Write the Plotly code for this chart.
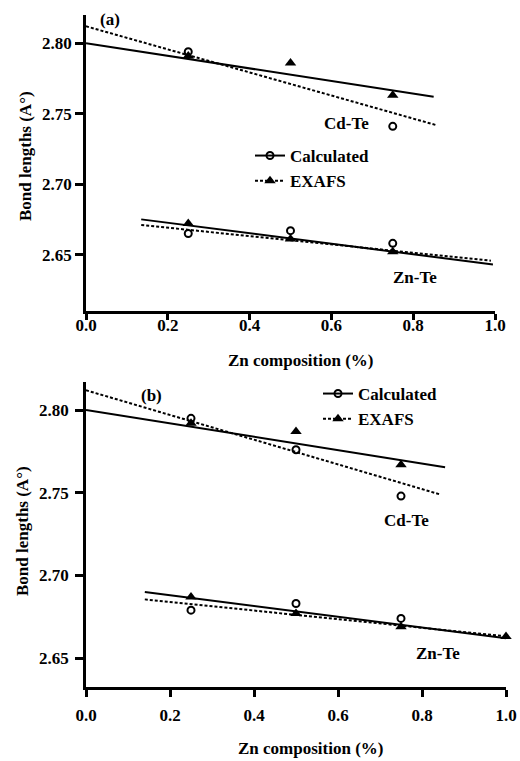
import plotly.graph_objects as go

# ---------------- data ----------------
comp = [0.25, 0.5, 0.75]

# panel (a)
a_cdte_calc_x = [0.25, 0.75]
a_cdte_calc_y = [2.794, 2.741]
a_cdte_exafs_x = [0.25, 0.5, 0.75]
a_cdte_exafs_y = [2.791, 2.786, 2.763]
a_znte_calc_y = [2.665, 2.667, 2.658]
a_znte_exafs_y = [2.672, 2.661, 2.652]
# fitted lines (end points)
a_cdte_solid_x = [0.0, 0.85]
a_cdte_solid_y = [2.800, 2.762]
a_cdte_dash_x = [0.0, 0.855]
a_cdte_dash_y = [2.812, 2.742]
a_znte_solid_x = [0.135, 0.995]
a_znte_solid_y = [2.675, 2.643]
a_znte_dash_x = [0.135, 0.99]
a_znte_dash_y = [2.671, 2.6457]

# panel (b)
b_cdte_calc_y = [2.795, 2.776, 2.748]
b_cdte_exafs_y = [2.792, 2.787, 2.767]
b_znte_calc_y = [2.679, 2.683, 2.674]
b_znte_exafs_x = [0.25, 0.5, 0.75, 1.0]
b_znte_exafs_y = [2.687, 2.677, 2.669, 2.663]
b_cdte_solid_x = [0.0, 0.855]
b_cdte_solid_y = [2.800, 2.7655]
b_cdte_dash_x = [0.0, 0.843]
b_cdte_dash_y = [2.812, 2.749]
b_znte_solid_x = [0.14, 1.0]
b_znte_solid_y = [2.690, 2.662]
b_znte_dash_x = [0.14, 0.99]
b_znte_dash_y = [2.6855, 2.6634]

x_ticks = [0.0, 0.2, 0.4, 0.6, 0.8, 1.0]
y_ticks = [2.65, 2.70, 2.75, 2.80]

# ---------------- styles ----------------
W, H = 520, 761
FONT = dict(family="Times New Roman", size=17, color="black", weight="bold")
circ = dict(symbol="circle-open", size=7, color="black", line=dict(width=2, color="black"))
tri = dict(symbol="triangle-up", size=10, color="black")
solid = dict(color="black", width=2)
dashed = dict(color="black", width=2, dash="3px,2px")

fig = go.Figure()

def add_line(x, y, line, xa, ya):
    fig.add_trace(go.Scatter(x=x, y=y, mode="lines", line=line, showlegend=False,
                             xaxis=xa, yaxis=ya, hoverinfo="skip"))

def add_pts(x, y, marker, xa, ya):
    fig.add_trace(go.Scatter(x=x, y=y, mode="markers", marker=marker, showlegend=False,
                             xaxis=xa, yaxis=ya, cliponaxis=False))

# panel (a)
add_line(a_cdte_solid_x, a_cdte_solid_y, solid, "x", "y")
add_line(a_cdte_dash_x, a_cdte_dash_y, dashed, "x", "y")
add_line(a_znte_solid_x, a_znte_solid_y, solid, "x", "y")
add_line(a_znte_dash_x, a_znte_dash_y, dashed, "x", "y")
add_pts(a_cdte_exafs_x, a_cdte_exafs_y, tri, "x", "y")
add_pts(a_cdte_calc_x, a_cdte_calc_y, circ, "x", "y")
add_pts(comp, a_znte_exafs_y, tri, "x", "y")
add_pts(comp, a_znte_calc_y, circ, "x", "y")

# panel (b)
add_line(b_cdte_solid_x, b_cdte_solid_y, solid, "x2", "y2")
add_line(b_cdte_dash_x, b_cdte_dash_y, dashed, "x2", "y2")
add_line(b_znte_solid_x, b_znte_solid_y, solid, "x2", "y2")
add_line(b_znte_dash_x, b_znte_dash_y, dashed, "x2", "y2")
add_pts(comp, b_cdte_exafs_y, tri, "x2", "y2")
add_pts(comp, b_cdte_calc_y, circ, "x2", "y2")
add_pts(b_znte_exafs_x, b_znte_exafs_y, tri, "x2", "y2")
add_pts(comp, b_znte_calc_y, circ, "x2", "y2")

# legend entries
for xa, ya, lg in [("x", "y", "legend"), ("x2", "y2", "legend2")]:
    fig.add_trace(go.Scatter(x=[None], y=[None], mode="lines+markers", name="Calculated",
                             line=solid, marker=circ, xaxis=xa, yaxis=ya, legend=lg))
    fig.add_trace(go.Scatter(x=[None], y=[None], mode="lines+markers", name="EXAFS",
                             line=dashed, marker=tri, xaxis=xa, yaxis=ya, legend=lg))

def px_x(p):
    return p / W

def px_y(p):
    return 1 - p / H

axis_common = dict(showline=True, linecolor="black", linewidth=2.5, ticks="outside",
                   tickwidth=2.5, tickcolor="black", showgrid=False,
                   zeroline=False, mirror=False, tickfont=FONT, automargin=False)

fig.update_layout(
    template="none",
    width=W, height=H,
    margin=dict(l=0, r=0, t=0, b=0, autoexpand=False),
    paper_bgcolor="white", plot_bgcolor="white",
    font=FONT,
    xaxis=dict(domain=[px_x(86), px_x(495)], range=[0, 1], tickvals=x_ticks,
               ticktext=["%.1f" % v for v in x_ticks], anchor="y", ticklen=6,
               ticklabelstandoff=-9, **axis_common),
    yaxis=dict(domain=[px_y(311), px_y(15)], range=[2.61, 2.82], tickvals=y_ticks,
               ticktext=["%.2f" % v for v in y_ticks], anchor="x", ticklen=8,
               **axis_common),
    xaxis2=dict(domain=[px_x(86), px_x(506)], range=[0, 1], tickvals=x_ticks,
                ticktext=["%.1f" % v for v in x_ticks], anchor="y2", ticklen=7,
                ticklabelstandoff=4, **axis_common),
    yaxis2=dict(domain=[px_y(687), px_y(382)], range=[2.6325, 2.817], tickvals=y_ticks,
                ticktext=["%.2f" % v for v in y_ticks], anchor="x2", ticklen=8,
                ticklabelstandoff=3, **axis_common),
    legend=dict(x=px_x(250), y=px_y(138), xanchor="left", yanchor="top",
                bgcolor="rgba(0,0,0,0)", font=FONT, tracegroupgap=0, itemwidth=30),
    legend2=dict(x=px_x(318), y=px_y(376), xanchor="left", yanchor="top",
                 bgcolor="rgba(0,0,0,0)", font=FONT, tracegroupgap=0, itemwidth=30),
)

ann = [
    dict(text="(a)", x=0.059, y=2.817, xref="x", yref="y"),
    dict(text="Cd-Te", x=0.638, y=2.743, xref="x", yref="y"),
    dict(text="Zn-Te", x=0.804, y=2.6337, xref="x", yref="y"),
    dict(text="(b)", x=0.155, y=2.809, xref="x2", yref="y2"),
    dict(text="Cd-Te", x=0.764, y=2.733, xref="x2", yref="y2"),
    dict(text="Zn-Te", x=0.838, y=2.653, xref="x2", yref="y2"),
    dict(text="Zn composition (%)", x=px_x(300), y=px_y(360), xref="paper", yref="paper"),
    dict(text="Zn composition (%)", x=px_x(310), y=px_y(748), xref="paper", yref="paper"),
    dict(text="Bond lengths (A°)", x=px_x(25), y=px_y(156), xref="paper", yref="paper",
         textangle=-90),
    dict(text="Bond lengths (A°)", x=px_x(22), y=px_y(531), xref="paper", yref="paper",
         textangle=-90),
]
for a in ann:
    fig.add_annotation(showarrow=False, font=FONT, xanchor="center", yanchor="middle", **a)

fig.write_html("out.html", config={"displayModeBar": False},
               post_script="document.body.style.margin='0';document.body.style.padding='0';")
